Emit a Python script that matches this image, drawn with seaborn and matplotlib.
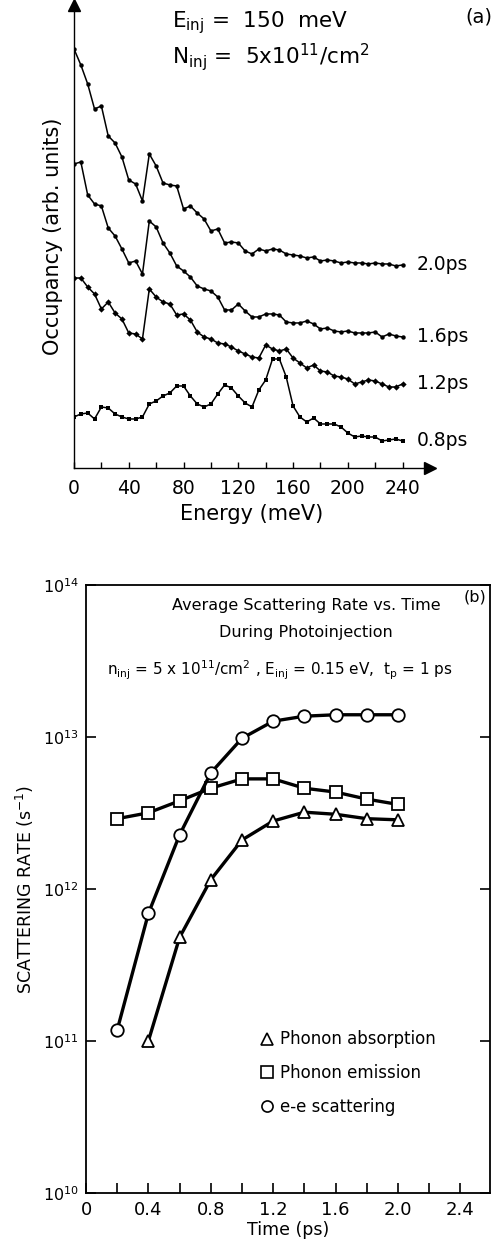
import numpy as np
import pandas as pd
import matplotlib.pyplot as plt
import seaborn as sns
from matplotlib.lines import Line2D
from matplotlib.ticker import MultipleLocator, FixedLocator, NullLocator

# ---- panel (a): occupancy vs energy, curves offset vertically (arb. units)
energy = list(range(0, 245, 5))
occ_20 = [41.9, 40.3, 38.4, 35.9, 36.2, 33.2, 32.5, 31.1, 28.8, 28.4, 26.7, 31.4, 30.2, 28.5,
          28.3, 28.2, 25.9, 26.2, 25.5, 24.9, 23.7, 23.9, 22.5, 22.6, 22.5, 21.7, 21.4, 21.9,
          21.7, 21.9, 21.8, 21.4, 21.3, 21.2, 21.0, 21.1, 20.7, 20.8, 20.7, 20.5, 20.6, 20.5,
          20.5, 20.4, 20.5, 20.4, 20.4, 20.2, 20.3]
occ_16 = [30.4, 30.6, 27.3, 26.4, 26.2, 24.0, 23.2, 21.9, 20.5, 20.7, 19.4, 24.7, 24.1, 22.5,
          21.5, 20.2, 19.7, 19.1, 18.2, 17.9, 17.7, 17.1, 15.8, 15.8, 16.4, 15.7, 15.1, 15.1,
          15.4, 15.4, 15.3, 14.6, 14.5, 14.5, 14.7, 14.4, 13.9, 14.0, 13.7, 13.6, 13.7, 13.5,
          13.5, 13.5, 13.6, 13.1, 13.4, 13.2, 13.1]
occ_12 = [19.0, 19.0, 18.1, 17.4, 15.9, 16.6, 15.5, 14.9, 13.5, 13.4, 12.9, 17.9, 17.1, 16.6,
          16.4, 15.3, 15.4, 14.8, 13.6, 13.1, 12.9, 12.5, 12.4, 12.1, 11.7, 11.4, 11.1, 11.0,
          12.3, 11.9, 11.7, 11.9, 11.0, 10.5, 10.0, 10.3, 9.7, 9.6, 9.2, 9.1, 8.9, 8.4,
          8.6, 8.8, 8.7, 8.4, 8.1, 8.1, 8.4]
occ_08 = [5.1, 5.4, 5.5, 4.9, 6.1, 6.0, 5.4, 5.1, 4.9, 4.9, 5.1, 6.4, 6.7, 7.2,
          7.5, 8.2, 8.2, 7.2, 6.4, 6.1, 6.4, 7.4, 8.3, 8.0, 7.2, 6.5, 6.1, 7.8,
          8.8, 10.9, 10.9, 9.1, 6.2, 5.1, 4.6, 5.0, 4.4, 4.4, 4.4, 4.1, 3.5, 3.1,
          3.2, 3.1, 3.1, 2.7, 2.8, 2.9, 2.7]
curve_labels = ["2.0ps", "1.6ps", "1.2ps", "0.8ps"]

# ---- panel (b): average scattering rate vs time
time_ps = [0.2, 0.4, 0.6, 0.8, 1.0, 1.2, 1.4, 1.6, 1.8, 2.0]
t_abs = [0.4, 0.6, 0.8, 1.0, 1.2, 1.4, 1.6, 1.8, 2.0]
rate_abs = [1.0e11, 4.8e11, 1.15e12, 2.1e12, 2.8e12, 3.2e12, 3.1e12, 2.9e12, 2.85e12]
rate_emi = [2.9e12, 3.17e12, 3.8e12, 4.6e12, 5.3e12, 5.3e12, 4.6e12, 4.34e12, 3.9e12, 3.6e12]
rate_ee = [1.18e11, 6.9e11, 2.27e12, 5.8e12, 9.8e12, 1.27e13, 1.37e13, 1.40e13, 1.40e13, 1.40e13]
series_names = ["Phonon absorption", "Phonon emission", "e-e scattering"]

sns.set_style("ticks")
plt.rcParams["font.family"] = ["DejaVu Sans"]
plt.rcParams.update({"text.color": "black", "axes.labelcolor": "black",
                     "xtick.color": "black", "ytick.color": "black",
                     "axes.edgecolor": "black"})

fig = plt.figure(figsize=(5, 12.42), dpi=100)

# ================= panel (a)
ax1 = fig.add_axes([0.148, 0.6232, 0.712, 0.3728])
occ = pd.DataFrame({
    "Energy": energy * 4,
    "Occupancy": occ_20 + occ_16 + occ_12 + occ_08,
    "t": sum([[lab] * len(energy) for lab in curve_labels], []),
})
sns.lineplot(data=occ, x="Energy", y="Occupancy", hue="t", style="t",
             palette=["black"] * 4, dashes=False,
             markers={"2.0ps": "o", "1.6ps": "o", "1.2ps": "D", "0.8ps": "s"},
             markersize=3.2, linewidth=1.1, markeredgewidth=0,
             legend=False, ax=ax1)
ax1.set_xlim(0, 260)
ax1.set_ylim(0, 46.3)
sns.despine(ax=ax1)
ax1.spines["left"].set_linewidth(1.0)
ax1.spines["bottom"].set_linewidth(1.0)
ax1.plot(1, 0, ">k", markersize=9, transform=ax1.get_yaxis_transform(), clip_on=False)
ax1.plot(0, 1, "^k", markersize=9, transform=ax1.get_xaxis_transform(), clip_on=False)
ax1.xaxis.set_major_locator(FixedLocator([0, 40, 80, 120, 160, 200, 240]))
ax1.xaxis.set_minor_locator(FixedLocator(list(range(0, 241, 20))))
ax1.set_yticks([])
ax1.tick_params(axis="x", which="both", direction="in", length=4, width=1, pad=8,
                labelsize=13.5)
ax1.set_xlabel("Energy (meV)", fontsize=15, labelpad=4)
ax1.set_ylabel("Occupancy (arb. units)", fontsize=15, labelpad=8)

for lab, vals in zip(curve_labels, [occ_20, occ_16, occ_12, occ_08]):
    ax1.annotate(lab, xy=(energy[-1], vals[-1]), xytext=(10, 0),
                 textcoords="offset points", va="center", ha="left", fontsize=13.5,
                 annotation_clip=False)

ax1.text(0.275, 0.962, r"E$_{\rm inj}$ =  150  meV", transform=ax1.transAxes,
         fontsize=15.5, va="center", ha="left")
ax1.text(0.275, 0.888, r"N$_{\rm inj}$ =  5x10$^{11}$/cm$^2$", transform=ax1.transAxes,
         fontsize=15.5, va="center", ha="left")
fig.text(0.93, 0.986, "(a)", fontsize=14, va="center", ha="left")

# ================= panel (b)
ax2 = fig.add_axes([0.172, 0.0395, 0.808, 0.4895])
rates = pd.DataFrame({
    "Time": t_abs + time_ps + time_ps,
    "Rate": rate_abs + rate_emi + rate_ee,
    "kind": [series_names[0]] * len(t_abs) + [series_names[1]] * len(time_ps)
            + [series_names[2]] * len(time_ps),
})
marker_map = {series_names[0]: "^", series_names[1]: "s", series_names[2]: "o"}
sns.lineplot(data=rates, x="Time", y="Rate", hue="kind", style="kind",
             palette=["black"] * 3, dashes=False, markers=marker_map,
             markersize=9, linewidth=2.4, markerfacecolor="white",
             markeredgecolor="black", markeredgewidth=1.3, legend=False, ax=ax2)
ax2.set_yscale("log")
ax2.set_xlim(0, 2.59)
ax2.set_ylim(1e10, 1e14)
for s in ax2.spines.values():
    s.set_linewidth(1.3)
ax2.xaxis.set_major_locator(FixedLocator([0, 0.4, 0.8, 1.2, 1.6, 2.0, 2.4]))
ax2.xaxis.set_minor_locator(MultipleLocator(0.2))
ax2.set_xticklabels(["0", "0.4", "0.8", "1.2", "1.6", "2.0", "2.4"])
ax2.yaxis.set_major_locator(FixedLocator([1e10, 1e11, 1e12, 1e13, 1e14]))
ax2.yaxis.set_minor_locator(NullLocator())
ax2.set_yticklabels([r"$10^{10}$", r"$10^{11}$", r"$10^{12}$", r"$10^{13}$", r"$10^{14}$"])
ax2.tick_params(axis="x", which="both", direction="in", length=7, width=1.2,
                labelsize=13, pad=6)
ax2.tick_params(axis="y", which="major", direction="in", length=7, width=1.2,
                labelsize=11.5, right=True, pad=5)
ax2.set_xlabel("Time (ps)", fontsize=12.5, labelpad=1)
ax2.set_ylabel(r"SCATTERING RATE (s$^{-1}$)", fontsize=12.5, labelpad=5)

ax2.text(0.545, 0.967, "Average Scattering Rate vs. Time", transform=ax2.transAxes,
         fontsize=11.5, ha="center", va="center")
ax2.text(0.545, 0.922, "During Photoinjection", transform=ax2.transAxes,
         fontsize=11.5, ha="center", va="center")
ax2.text(0.99, 0.98, "(b)", transform=ax2.transAxes, fontsize=11.5,
         ha="right", va="center")
ax2.text(0.48, 0.86,
         r"n$_{\rm inj}$ = 5 x 10$^{11}$/cm$^2$ , E$_{\rm inj}$ = 0.15 eV,  t$_{\rm p}$ = 1 ps",
         transform=ax2.transAxes, fontsize=11, ha="center", va="center")

handles = [Line2D([], [], marker=marker_map[n], linestyle="none", markersize=8,
                  markerfacecolor="white", markeredgecolor="black", markeredgewidth=1.2)
           for n in series_names]
ax2.legend(handles, series_names, loc="center left", bbox_to_anchor=(0.39, 0.197),
           frameon=False, fontsize=12, handletextpad=0.3, labelspacing=0.95,
           handlelength=1.0)

fig.savefig("out.png", dpi=100)
